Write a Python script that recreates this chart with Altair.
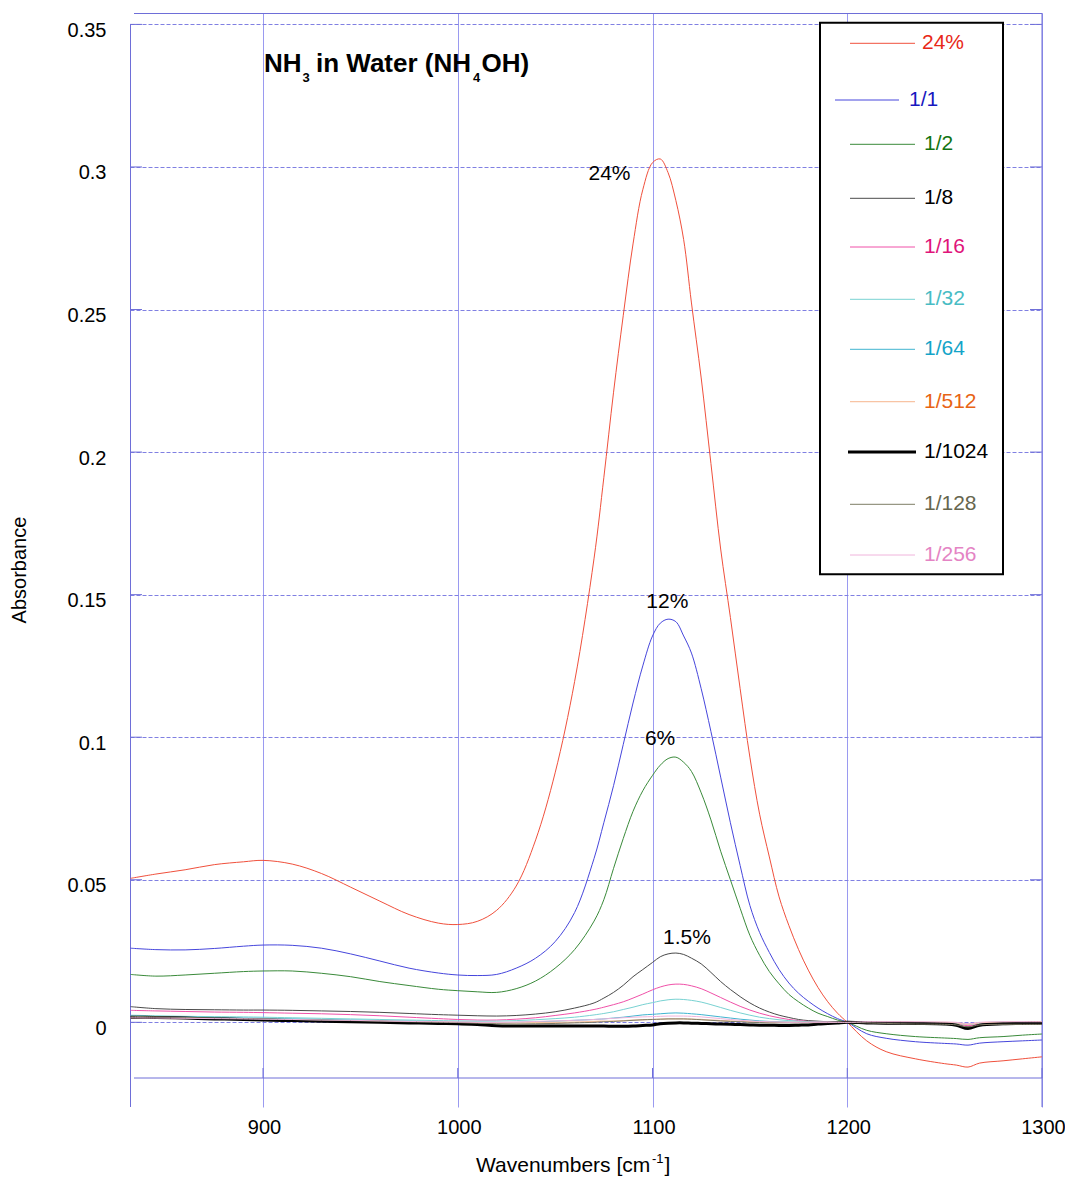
import altair as alt
import pandas as pd

# ---------------- data ----------------
wavenumbers = [
    832, 845, 860, 875, 890,
    900, 915, 930, 945, 960,
    975, 990, 1000, 1010, 1020,
    1030, 1040, 1050, 1060, 1070,
    1075, 1080, 1085, 1090, 1095,
    1100, 1104, 1108, 1112, 1116,
    1120, 1125, 1130, 1135, 1140,
    1145, 1150, 1155, 1160, 1165,
    1170, 1175, 1180, 1185, 1190,
    1195, 1200, 1210, 1220, 1235,
    1250, 1256, 1262, 1268, 1280,
    1290, 1300]

abs_24pct = [
    0.0505, 0.0520, 0.0535, 0.0553, 0.0563,
    0.0568, 0.0555, 0.0522, 0.0474, 0.0425,
    0.0378, 0.0348, 0.0343, 0.0354, 0.0393,
    0.0478, 0.0640, 0.0875, 0.1195, 0.1628,
    0.1910, 0.2210, 0.2480, 0.2730, 0.2920,
    0.3015, 0.3028, 0.2980, 0.2882, 0.2745,
    0.2523, 0.2260, 0.1960, 0.1660, 0.1420,
    0.1170, 0.0930, 0.0730, 0.0580, 0.0440,
    0.0340, 0.0255, 0.0183, 0.0122, 0.0072,
    0.0032, 0.0000, -0.0065, -0.0103, -0.0128,
    -0.0145, -0.0150, -0.0157, -0.0143, -0.0135,
    -0.0128, -0.0121]

abs_1_1 = [
    0.0260, 0.0255, 0.0254, 0.0259, 0.0267,
    0.0271, 0.0270, 0.0260, 0.0240, 0.0215,
    0.0190, 0.0173, 0.0166, 0.0164, 0.0168,
    0.0190, 0.0225, 0.0283, 0.0385, 0.0575,
    0.0700, 0.0830, 0.0975, 0.1120, 0.1250,
    0.1355, 0.1400, 0.1414, 0.1405, 0.1355,
    0.1295, 0.1170, 0.1020, 0.0860, 0.0700,
    0.0550, 0.0410, 0.0315, 0.0245, 0.0185,
    0.0138, 0.0102, 0.0074, 0.0050, 0.0030,
    0.0013, 0.0000, -0.0040, -0.0056, -0.0068,
    -0.0074, -0.0076, -0.0080, -0.0073, -0.0068,
    -0.0065, -0.0062]

abs_1_2 = [
    0.0168, 0.0162, 0.0166, 0.0172, 0.0178,
    0.0180, 0.0180, 0.0172, 0.0160, 0.0143,
    0.0129, 0.0116, 0.0111, 0.0107, 0.0105,
    0.0118, 0.0145, 0.0190, 0.0255, 0.0355,
    0.0430, 0.0540, 0.0645, 0.0740, 0.0812,
    0.0866, 0.0902, 0.0925, 0.0930, 0.0912,
    0.0880, 0.0805, 0.0710, 0.0600, 0.0500,
    0.0400, 0.0305, 0.0235, 0.0178, 0.0135,
    0.0098, 0.0072, 0.0050, 0.0032, 0.0020,
    0.0008, 0.0000, -0.0028, -0.0040, -0.0050,
    -0.0055, -0.0057, -0.0060, -0.0054, -0.0050,
    -0.0045, -0.0041]

abs_1_8 = [
    0.0055, 0.0048, 0.0045, 0.0044, 0.0043,
    0.0043, 0.0042, 0.0040, 0.0038, 0.0035,
    0.0031, 0.0027, 0.0025, 0.0023, 0.0022,
    0.0024, 0.0029, 0.0037, 0.0050, 0.0068,
    0.0085, 0.0105, 0.0130, 0.0160, 0.0185,
    0.0210, 0.0230, 0.0240, 0.0243, 0.0238,
    0.0225, 0.0205, 0.0175, 0.0143, 0.0115,
    0.0090, 0.0068, 0.0050, 0.0036, 0.0025,
    0.0017, 0.0010, 0.0006, 0.0004, 0.0002,
    0.0001, 0.0000, -0.0003, -0.0005, -0.0006,
    -0.0008, -0.0010, -0.0015, -0.0009, -0.0007,
    -0.0006, -0.0006]

abs_1_16 = [
    0.0042, 0.0040, 0.0038, 0.0036, 0.0035,
    0.0034, 0.0032, 0.0030, 0.0027, 0.0023,
    0.0018, 0.0013, 0.0010, 0.0008, 0.0008,
    0.0011, 0.0016, 0.0024, 0.0033, 0.0045,
    0.0053, 0.0062, 0.0072, 0.0085, 0.0099,
    0.0114, 0.0124, 0.0131, 0.0134, 0.0133,
    0.0128, 0.0118, 0.0103, 0.0087, 0.0071,
    0.0056, 0.0043, 0.0032, 0.0023, 0.0016,
    0.0010, 0.0006, 0.0003, 0.0002, 0.0001,
    0.0000, 0.0000, 0.0001, 0.0001, 0.0000,
    -0.0002, -0.0004, -0.0012, -0.0005, 0.0000,
    0.0001, 0.0001]

abs_1_32 = [
    0.0025, 0.0023, 0.0021, 0.0020, 0.0019,
    0.0018, 0.0016, 0.0014, 0.0012, 0.0010,
    0.0008, 0.0006, 0.0005, 0.0004, 0.0004,
    0.0006, 0.0009, 0.0013, 0.0018, 0.0026,
    0.0031, 0.0037, 0.0045, 0.0053, 0.0062,
    0.0069, 0.0075, 0.0079, 0.0081, 0.0080,
    0.0077, 0.0071, 0.0062, 0.0052, 0.0042,
    0.0033, 0.0025, 0.0018, 0.0013, 0.0009,
    0.0006, 0.0004, 0.0002, 0.0001, 0.0000,
    0.0000, 0.0000, 0.0000, 0.0000, -0.0001,
    -0.0002, -0.0003, -0.0008, -0.0003, 0.0000,
    0.0000, 0.0000]

abs_1_64 = [
    0.0022, 0.0020, 0.0018, 0.0017, 0.0015,
    0.0014, 0.0012, 0.0010, 0.0008, 0.0006,
    0.0004, 0.0002, 0.0001, 0.0000, -0.0001,
    0.0000, 0.0002, 0.0004, 0.0007, 0.0010,
    0.0012, 0.0015, 0.0018, 0.0022, 0.0026,
    0.0028, 0.0030, 0.0032, 0.0033, 0.0032,
    0.0030, 0.0027, 0.0023, 0.0019, 0.0015,
    0.0011, 0.0008, 0.0005, 0.0003, 0.0002,
    0.0001, 0.0000, 0.0000, 0.0000, 0.0000,
    0.0000, 0.0000, 0.0000, 0.0000, 0.0000,
    -0.0001, -0.0002, -0.0006, -0.0002, 0.0001,
    0.0001, 0.0001]

abs_1_512 = [
    0.0015, 0.0014, 0.0013, 0.0012, 0.0011,
    0.0010, 0.0008, 0.0007, 0.0005, 0.0004,
    0.0002, 0.0001, 0.0000, -0.0001, -0.0002,
    -0.0002, -0.0001, 0.0000, 0.0001, 0.0003,
    0.0004, 0.0005, 0.0006, 0.0008, 0.0009,
    0.0010, 0.0011, 0.0012, 0.0012, 0.0012,
    0.0011, 0.0010, 0.0008, 0.0006, 0.0005,
    0.0003, 0.0002, 0.0001, 0.0000, 0.0000,
    0.0000, 0.0000, 0.0000, 0.0000, 0.0000,
    0.0000, 0.0000, 0.0001, 0.0001, 0.0001,
    0.0000, -0.0002, -0.0007, -0.0002, 0.0001,
    0.0001, 0.0002]

abs_1_1024 = [
    0.0018, 0.0017, 0.0015, 0.0012, 0.0010,
    0.0008, 0.0006, 0.0004, 0.0002, 0.0000,
    -0.0002, -0.0004, -0.0005, -0.0008, -0.0012,
    -0.0013, -0.0013, -0.0013, -0.0013, -0.0013,
    -0.0013, -0.0014, -0.0014, -0.0013, -0.0011,
    -0.0009, -0.0005, -0.0003, -0.0002, -0.0002,
    -0.0003, -0.0004, -0.0005, -0.0006, -0.0007,
    -0.0008, -0.0009, -0.0010, -0.0010, -0.0011,
    -0.0011, -0.0010, -0.0009, -0.0006, -0.0004,
    -0.0002, 0.0000, -0.0002, -0.0003, -0.0004,
    -0.0006, -0.0010, -0.0022, -0.0010, -0.0005,
    -0.0004, -0.0003]

abs_1_128 = [
    0.0021, 0.0019, 0.0017, 0.0015, 0.0013,
    0.0012, 0.0010, 0.0008, 0.0006, 0.0004,
    0.0002, 0.0000, -0.0001, -0.0003, -0.0005,
    -0.0006, -0.0005, -0.0004, -0.0002, 0.0000,
    0.0002, 0.0003, 0.0005, 0.0007, 0.0009,
    0.0010, 0.0011, 0.0012, 0.0012, 0.0012,
    0.0011, 0.0009, 0.0007, 0.0005, 0.0003,
    0.0002, 0.0000, -0.0001, -0.0002, -0.0002,
    -0.0002, -0.0002, -0.0002, -0.0001, -0.0001,
    0.0000, 0.0000, -0.0002, -0.0004, -0.0006,
    -0.0007, -0.0009, -0.0016, -0.0009, -0.0007,
    -0.0007, -0.0007]

abs_1_256 = [
    0.0016, 0.0015, 0.0014, 0.0013, 0.0012,
    0.0011, 0.0010, 0.0008, 0.0007, 0.0005,
    0.0003, 0.0002, 0.0001, 0.0000, 0.0000,
    0.0001, 0.0003, 0.0005, 0.0007, 0.0010,
    0.0012, 0.0014, 0.0016, 0.0018, 0.0019,
    0.0020, 0.0021, 0.0022, 0.0022, 0.0022,
    0.0021, 0.0019, 0.0016, 0.0013, 0.0010,
    0.0007, 0.0005, 0.0003, 0.0002, 0.0001,
    0.0000, 0.0000, 0.0000, 0.0000, 0.0000,
    0.0000, 0.0000, 0.0002, 0.0002, 0.0002,
    0.0001, 0.0000, -0.0005, 0.0000, 0.0002,
    0.0002, 0.0002]

series_names = ["24%", "1/1", "1/2", "1/8", "1/16", "1/32", "1/64",
                "1/512", "1/1024", "1/128", "1/256"]
series_values = [abs_24pct, abs_1_1, abs_1_2, abs_1_8, abs_1_16, abs_1_32,
                 abs_1_64, abs_1_512, abs_1_1024, abs_1_128, abs_1_256]

peak_labels = ["24%", "12%", "6%", "1.5%"]
peak_label_wn = [1077.9, 1107.6, 1103.9, 1117.7]
peak_label_abs = [0.2976, 0.1475, 0.0993, 0.0296]

y_ticks = [0, 0.05, 0.1, 0.15, 0.2, 0.25, 0.3, 0.35]
x_ticks = [900, 1000, 1100, 1200, 1300]

# ---------------- styles ----------------
line_colors = ["#f0503c", "#4646dc", "#3a8a3a", "#4a4a4a", "#f050a8", "#78d2d2",
               "#40b4d0", "#f8c4a4", "#000000", "#7e7e66", "#f0b4dc"]
label_colors = ["#e82818", "#1818c0", "#127412", "#000000", "#e0147a", "#48bcc4",
                "#14a4c8", "#e86414", "#000000", "#66664e", "#e484c4"]
line_widths = [1, 1, 1, 1, 1, 1, 1, 1.3, 3, 1, 1]

FONT = "Liberation Sans, Arial, sans-serif"
AXIS_C = "#6e6ed8"
W, H = 912, 1094
x_scale = alt.Scale(domain=[831.7, 1300], nice=False, zero=False)
y_scale = alt.Scale(domain=[-0.0297, 0.354], nice=False, zero=False)

x_axis = alt.Axis(
    values=x_ticks, title="", format="d", grid=True, gridColor="#9a9af0",
    gridWidth=1, domain=False, ticks=False, tickSize=0, labelFont=FONT,
    labelFontSize=20, labelColor="black", labelPadding=10, labelOffset=1,
    labelFlush=False, labelOverlap=False)
y_axis = alt.Axis(
    values=y_ticks, title="", format="~g", grid=True, gridColor="#8080e2",
    gridDash=[4, 2], gridWidth=1, domain=False, ticks=False, tickSize=0,
    labelFont=FONT, labelFontSize=20, labelColor="black", labelPadding=24,
    labelOffset=6, labelBaseline="middle", labelFlush=False, labelOverlap=False)


def X(field):
    return alt.X(field, scale=x_scale, axis=x_axis)


def Y(field):
    return alt.Y(field, scale=y_scale, axis=y_axis)


one = pd.DataFrame({"k": [0]})
layers = []

# frame lines
def vrule(x, y1, y2, color=AXIS_C, w=1):
    return alt.Chart(one).mark_rule(color=color, strokeWidth=w).encode(
        x=alt.value(x), y=alt.value(y1), y2=alt.value(y2))


def hrule(y, x1, x2, color=AXIS_C, w=1):
    return alt.Chart(one).mark_rule(color=color, strokeWidth=w).encode(
        y=alt.value(y), x=alt.value(x1), x2=alt.value(x2))


layers += [vrule(0.5, 11.3, H), vrule(912, 0, H), hrule(0.5, 4, 912), hrule(1065, 4, 912)]

# inward ticks
ytick_df = pd.DataFrame({"yt": y_ticks})
for x1, x2 in [(0, 12), (900, 912)]:
    layers.append(alt.Chart(ytick_df).mark_rule(color=AXIS_C, strokeWidth=1).encode(
        y=Y("yt:Q"), x=alt.value(x1), x2=alt.value(x2)))
layers.append(alt.Chart(pd.DataFrame({"xt": x_ticks})).mark_rule(color=AXIS_C, strokeWidth=1).encode(
    x=X("xt:Q"), y=alt.value(1055), y2=alt.value(1065)))

# spectra
for name, vals, col, lw in zip(series_names, series_values, line_colors, line_widths):
    df = pd.DataFrame({"wn": wavenumbers, "a": vals})
    layers.append(alt.Chart(df).mark_line(color=col, strokeWidth=lw, interpolate="catmull-rom").encode(
        x=X("wn:Q"), y=Y("a:Q")))

# peak annotations
ann = pd.DataFrame({"lbl": peak_labels, "wn": peak_label_wn, "a": peak_label_abs})
layers.append(alt.Chart(ann).mark_text(font=FONT, fontSize=21, color="black",
                                       align="center", baseline="middle").encode(
    x=X("wn:Q"), y=Y("a:Q"), text="lbl:N"))


def txt(s, x, y, size, color="black", bold=False, align="left", baseline="alphabetic", angle=0):
    kw = dict(text=s, font=FONT, fontSize=size, color=color, align=align, baseline=baseline)
    if bold:
        kw["fontWeight"] = "bold"
    if angle:
        kw["angle"] = angle
    return alt.Chart(one).mark_text(**kw).encode(x=alt.value(x), y=alt.value(y))


# chart title with subscripts
layers += [
    txt("NH", 134, 58.7, 26, bold=True),
    txt("3", 172.5, 68.7, 13, bold=True),
    txt("in Water (NH", 186, 58.7, 26, bold=True),
    txt("4", 343, 68.7, 13, bold=True),
    txt("OH)", 351.5, 58.7, 26, bold=True),
]

# axis titles
layers += [
    txt("Absorbance", -110, 557, 20, align="center", baseline="middle", angle=270),
    txt("Wavenumbers [cm", 346, 1159, 21),
    txt("-1", 522, 1150, 13),
    txt("]", 534.5, 1159, 21),
]

# legend box
layers.append(alt.Chart(one).mark_rect(fill="white", stroke="black", strokeWidth=2).encode(
    x=alt.value(690), x2=alt.value(873), y=alt.value(9.7), y2=alt.value(561.3)))

legend_y = [30.3, 87, 131.3, 185.3, 234, 286.3, 336.3, 388.7, 439, 491.3, 542]
for i, (name, col, lcol, lw) in enumerate(zip(series_names, line_colors, label_colors, line_widths)):
    yy = legend_y[i]
    if name == "1/1":
        x1, x2, tx = 705, 769, 779
    elif name == "1/1024":
        x1, x2, tx = 718, 786, 794
    elif name == "24%":
        x1, x2, tx = 720, 785, 792
    else:
        x1, x2, tx = 720, 785, 794
    layers.append(hrule(yy, x1, x2, color=col, w=lw))
    layers.append(txt(name, tx, yy, 21, color=lcol, baseline="middle"))

chart = alt.layer(*layers).properties(
    width=W, height=H,
    autosize=alt.AutoSizeParams(type="none"),
    padding={"left": 122, "top": 5, "right": 23, "bottom": 70},
    background="white",
).configure_view(strokeWidth=0)

chart.save("out.html", embed_options={"renderer": "svg", "actions": False})
